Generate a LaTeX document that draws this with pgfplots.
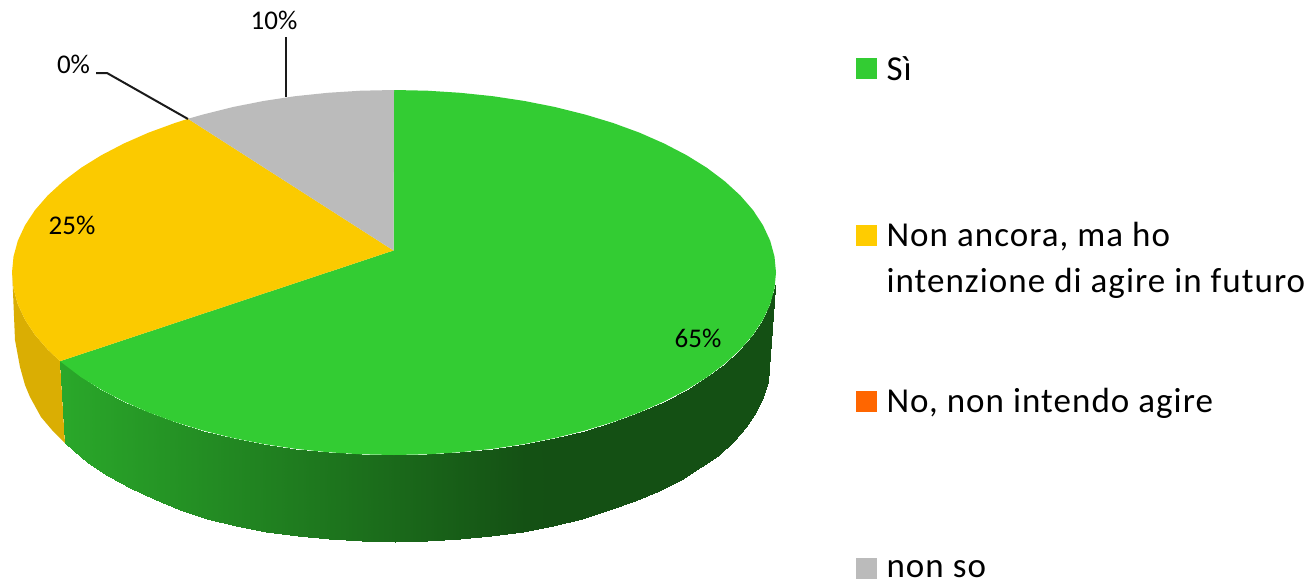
\documentclass[border=0pt]{standalone}
\usepackage{fontspec}
\setmainfont{Carlito}
\usepackage{pgfplots}
\pgfplotsset{compat=1.18}
\definecolor{cgreen}{HTML}{33CC33}
\definecolor{cyellow}{HTML}{FBCA00}
\definecolor{clegy}{HTML}{FFCC00}
\definecolor{cgray}{HTML}{BBBBBB}
\definecolor{corange}{HTML}{FF6600}
\definecolor{cyside}{HTML}{DAAE03}
\definecolor{ctext}{HTML}{1A1A1A}
\newcommand{\legfont}{\fontsize{35}{40}\selectfont\addfontfeature{LetterSpace=3}}
\newcommand{\labfont}{\fontsize{27}{30}\selectfont}
\begin{document}
\begin{tikzpicture}
\begin{axis}[
  scale only axis, width=1313pt, height=581pt,
  xmin=0, xmax=1313, ymin=0, ymax=581,
  y dir=reverse, axis lines=none, ticks=none,
  clip=false,
  colormap={sidegreen}{rgb255=(42,168,42) rgb255=(20,80,20)},
  point meta min=60, point meta max=530,
  every node/.style={inner sep=0pt, outer sep=0pt, text=ctext},
]
\addplot[draw=none, forget plot] coordinates {(0,0)(1313,581)};

% side of the yellow slice
\addplot[fill=cyside, draw=none] coordinates {
(12,272.5)(13.5,288.4)(17.8,304.2)(25,319.7)(35,334.9)(47.8,349.6)(60,361.2)
(65,443)(52,430)(41,417)(30,397)(25,385)(20,367)(15,340)(12.5,280)} -- cycle;

% side of the green slice: top row, then bottom row
\addplot[surf, shader=interp, mesh/rows=2, point meta=x] table {
x y
60 361.2
81.1 377.2
101.4 389.8
123.9 401.5
148.4 412.3
174.9 422
203 430.5
232.6 437.9
263.4 444
295.1 448.8
327.7 452.2
360.7 454.3
394 455
427.3 454.3
460.3 452.2
492.9 448.8
524.6 444
555.4 437.9
585 430.5
613.1 422
639.6 412.3
664.1 401.5
686.6 389.8
706.9 377.2
724.8 363.7
740.2 349.6
753 334.9
763 319.7
770.2 304.2
772 296
774.5 288.4
775 285
65 443
87.7 462.5
107.6 476
129.7 487.7
153.7 499
179.7 510
207.3 518.6
236.2 525.6
266.4 531.5
297.6 536
329.4 539.4
361.8 541.3
394.5 542
427.2 541.3
459.6 539.4
491.4 536
522.6 531.5
552.8 525.6
581.8 518.6
609.3 510.4
635.3 501
659.3 490.7
681.4 479.5
701.3 467.4
718.8 454.5
733.9 441
746.4 426.9
756.2 412.3
763.4 397.4
767.6 382.3
769 367
772 307
};

% top face: green 65%
\addplot[fill=cgreen, draw=none] coordinates {
(393.5,250.5)(394,90)(427.3,90.7)(460.3,92.8)(492.9,96.2)(524.6,101)(555.4,107.1)(585,114.5)
(613.1,123)(639.6,132.7)(664.1,143.5)(686.6,155.2)(706.9,167.8)(724.8,181.3)(740.2,195.4)
(753,210.1)(763,225.3)(770.2,240.8)(774.5,256.6)(776,272.5)(774.5,288.4)(770.2,304.2)(763,319.7)
(753,334.9)(740.2,349.6)(724.8,363.7)(706.9,377.2)(686.6,389.8)(664.1,401.5)(639.6,412.3)
(613.1,422)(585,430.5)(555.4,437.9)(524.6,444)(492.9,448.8)(460.3,452.2)(427.3,454.3)(394,455)
(360.7,454.3)(327.7,452.2)(295.1,448.8)(263.4,444)(232.6,437.9)(203,430.5)(174.9,422)
(148.4,412.3)(123.9,401.5)(101.4,389.8)(81.1,377.2)(60,361.2)} -- cycle;
% top face: yellow 25%
\addplot[fill=cyellow, draw=none] coordinates {
(393.5,250.5)(60,361.2)(47.8,349.6)(35,334.9)(25,319.7)(17.8,304.2)(13.5,288.4)(12,272.5)
(13.5,256.6)(17.8,240.8)(25,225.3)(35,210.1)(47.8,195.4)(63.2,181.3)(81.1,167.8)(101.4,155.2)
(123.9,143.5)(148.4,132.7)(174.9,123)(188,118.8)} -- cycle;
% top face: gray 10%
\addplot[fill=cgray, draw=none] coordinates {
(393.5,250.5)(188,118.8)(203,114.5)(232.6,107.1)(263.4,101)(295.1,96.2)(327.7,92.8)(360.7,90.7)(394,90)} -- cycle;

% leader lines
\addplot[ctext, line width=2pt] coordinates {(286,37)(286,97)};
\addplot[ctext, line width=2pt] coordinates {(96,73)(107,73)(188,119)};

% data labels
\node[anchor=base] at (axis cs:274,29) {\labfont 10\%};
\node[anchor=base] at (axis cs:73.5,73) {\labfont 0\%};
\node[anchor=base] at (axis cs:72,234) {\labfont 25\%};
\node[anchor=base] at (axis cs:698,347) {\labfont 65\%};

% legend
\addplot[fill=cgreen, draw=none] coordinates {(856,58)(877,58)(877,79)(856,79)} -- cycle;
\addplot[fill=clegy, draw=none] coordinates {(856,225)(877,225)(877,246)(856,246)} -- cycle;
\addplot[fill=corange, draw=none] coordinates {(856,391)(877,391)(877,412)(856,412)} -- cycle;
\addplot[fill=cgray, draw=none] coordinates {(856,558)(877,558)(877,579)(856,579)} -- cycle;
\node[anchor=base west] at (axis cs:883,80) {\legfont Sì};
\node[anchor=base west] at (axis cs:883,246) {\legfont Non ancora, ma ho};
\node[anchor=base west] at (axis cs:883,292) {\legfont intenzione di agire in futuro};
\node[anchor=base west] at (axis cs:883,412) {\legfont No, non intendo agire};
\node[anchor=base west] at (axis cs:883,577) {\legfont non so};
\end{axis}
\end{tikzpicture}
\end{document}
